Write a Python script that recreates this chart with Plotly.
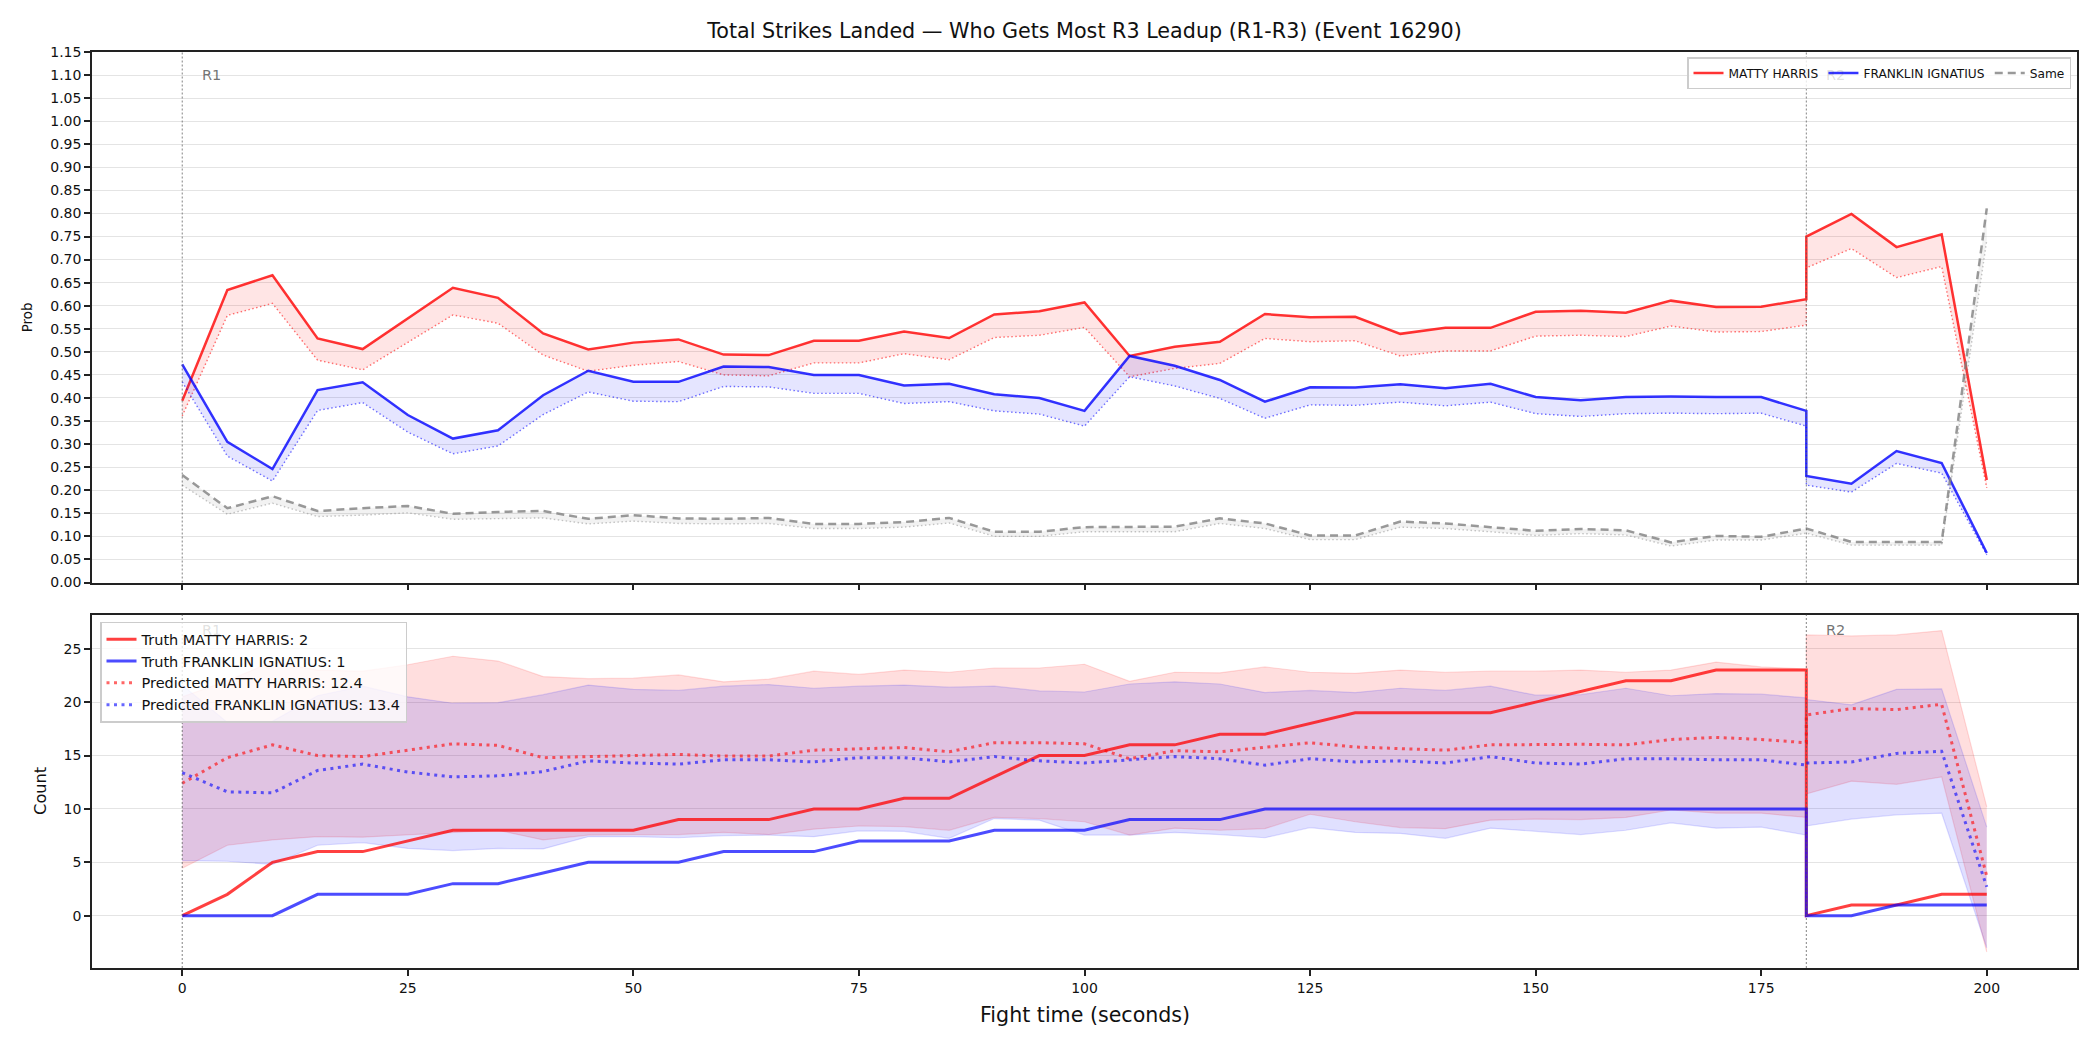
import plotly.graph_objects as go

# ---------------- data ----------------
fight_time = [0, 5, 10, 15, 20, 25, 30, 35, 40, 45, 50, 55, 60, 65, 70, 75, 80, 85, 90, 95,
              100, 105, 110, 115, 120, 125, 130, 135, 140, 145, 150, 155, 160, 165, 170, 175, 180,
              180, 185, 190, 195, 200]
x_ticks = [0, 25, 50, 75, 100, 125, 150, 175, 200]
round_starts = [0, 180]
round_labels = ["R1", "R2"]

harris_prob = [0.394, 0.634, 0.666, 0.529, 0.506, 0.572, 0.639, 0.617, 0.540, 0.505,
               0.520, 0.527, 0.494, 0.493, 0.524, 0.524, 0.544, 0.530, 0.581, 0.588,
               0.607, 0.491, 0.511, 0.522, 0.582, 0.575, 0.576, 0.539, 0.552, 0.552,
               0.587, 0.589, 0.585, 0.611, 0.597, 0.598, 0.614,
               0.750, 0.799, 0.727, 0.755, 0.222]
harris_prob_pred = [0.361, 0.579, 0.605, 0.482, 0.461, 0.521, 0.580, 0.562, 0.493, 0.458,
                    0.471, 0.479, 0.450, 0.448, 0.476, 0.476, 0.496, 0.483, 0.531, 0.536,
                    0.553, 0.446, 0.464, 0.475, 0.529, 0.522, 0.524, 0.491, 0.502, 0.502,
                    0.534, 0.536, 0.533, 0.556, 0.543, 0.544, 0.558,
                    0.682, 0.724, 0.661, 0.685, 0.205]
franklin_prob = [0.473, 0.305, 0.246, 0.417, 0.434, 0.363, 0.312, 0.330, 0.406, 0.459,
                 0.435, 0.435, 0.468, 0.467, 0.450, 0.450, 0.427, 0.431, 0.408, 0.400,
                 0.372, 0.491, 0.470, 0.439, 0.392, 0.423, 0.4225, 0.430, 0.421, 0.431,
                 0.402, 0.395, 0.402, 0.403, 0.402, 0.402, 0.372,
                 0.231, 0.214, 0.285, 0.259, 0.064]
franklin_prob_pred = [0.435, 0.274, 0.220, 0.373, 0.390, 0.326, 0.279, 0.296, 0.364, 0.413,
                      0.393, 0.392, 0.425, 0.424, 0.410, 0.410, 0.388, 0.392, 0.372, 0.365,
                      0.339, 0.446, 0.426, 0.399, 0.356, 0.385, 0.384, 0.391, 0.383, 0.391,
                      0.366, 0.360, 0.366, 0.367, 0.366, 0.367, 0.339,
                      0.211, 0.196, 0.258, 0.237, 0.060]
same_prob = [0.233, 0.161, 0.187, 0.155, 0.161, 0.166, 0.149, 0.153, 0.155, 0.138,
             0.146, 0.139, 0.138, 0.140, 0.127, 0.127, 0.131, 0.140, 0.110, 0.110,
             0.120, 0.120, 0.121, 0.139, 0.128, 0.102, 0.102, 0.132, 0.128, 0.120,
             0.112, 0.116, 0.113, 0.087, 0.101, 0.099, 0.117,
             0.117, 0.088, 0.088, 0.088, 0.811]
same_prob_pred = [0.211, 0.148, 0.172, 0.143, 0.146, 0.151, 0.137, 0.139, 0.140, 0.127,
                  0.133, 0.128, 0.127, 0.128, 0.117, 0.117, 0.120, 0.129, 0.100, 0.100,
                  0.110, 0.110, 0.110, 0.128, 0.117, 0.093, 0.093, 0.120, 0.117, 0.110,
                  0.102, 0.106, 0.103, 0.079, 0.092, 0.092, 0.107,
                  0.107, 0.081, 0.081, 0.081, 0.742]

harris_truth = [0, 2, 5, 6, 6, 7, 8, 8, 8, 8, 8, 9, 9, 9, 10, 10, 11, 11, 13, 15,
                15, 16, 16, 17, 17, 18, 19, 19, 19, 19, 20, 21, 22, 22, 23, 23, 23,
                0, 1, 1, 2, 2]
franklin_truth = [0, 0, 0, 2, 2, 2, 3, 3, 4, 5, 5, 5, 6, 6, 6, 7, 7, 7, 8, 8,
                  8, 9, 9, 9, 10, 10, 10, 10, 10, 10, 10, 10, 10, 10, 10, 10, 10,
                  0, 0, 1, 1, 1]
harris_count_pred = [12.4, 14.8, 16.0, 15.0, 14.9, 15.5, 16.1, 15.95, 14.8, 14.9,
                     15.0, 15.1, 14.95, 14.95, 15.5, 15.6, 15.75, 15.35, 16.2, 16.2,
                     16.1, 14.7, 15.45, 15.35, 15.8, 16.2, 15.8, 15.65, 15.5, 16.0,
                     16.05, 16.05, 16.0, 16.5, 16.7, 16.5, 16.2,
                     18.8, 19.4, 19.3, 19.8, 3.7]
franklin_count_pred = [13.4, 11.6, 11.5, 13.6, 14.2, 13.45, 13.0, 13.1, 13.5, 14.5,
                       14.3, 14.2, 14.6, 14.6, 14.4, 14.8, 14.8, 14.4, 14.9, 14.5,
                       14.3, 14.6, 14.9, 14.7, 14.1, 14.7, 14.4, 14.5, 14.3, 14.9,
                       14.3, 14.2, 14.7, 14.7, 14.6, 14.6, 14.1,
                       14.3, 14.4, 15.2, 15.4, 2.7]
harris_upper = [20.5, 22.0, 23.8, 23.0, 22.9, 23.5, 24.3, 23.85, 22.4, 22.2,
                22.25, 22.55, 21.9, 22.15, 22.9, 22.6, 23.0, 22.8, 23.2, 23.2,
                23.55, 21.95, 22.8, 22.75, 23.3, 22.8, 22.7, 23.0, 22.8, 22.9,
                22.9, 23.0, 22.8, 23.0, 23.75, 23.3, 23.1,
                26.3, 26.2, 26.3, 26.7, 10.2]
harris_lower = [4.45, 6.6, 7.1, 7.4, 7.35, 7.55, 7.8, 8.0, 7.1, 7.55,
                7.6, 7.6, 7.8, 7.6, 8.1, 8.4, 8.35, 8.0, 9.2, 9.1,
                8.8, 7.55, 8.2, 8.0, 8.15, 9.5, 8.8, 8.25, 8.15, 8.95,
                9.05, 9.0, 9.2, 9.9, 9.6, 9.6, 9.2,
                11.4, 12.6, 12.3, 13.0, -3.4]
franklin_upper = [21.6, 18.1, 18.2, 20.6, 21.5, 20.5, 19.9, 19.95, 20.7, 21.6,
                  21.2, 21.1, 21.5, 21.65, 21.3, 21.5, 21.6, 21.4, 21.5, 21.05,
                  20.95, 21.7, 21.9, 21.7, 20.9, 21.1, 20.9, 21.3, 21.1, 21.5,
                  20.65, 20.7, 21.3, 20.6, 20.8, 20.75, 20.4,
                  20.25, 19.75, 21.2, 21.25, 8.3]
franklin_lower = [5.15, 5.1, 4.8, 6.6, 6.85, 6.3, 6.1, 6.3, 6.25, 7.4,
                  7.4, 7.3, 7.5, 7.55, 7.4, 7.95, 7.9, 7.25, 9.1, 8.95,
                  7.55, 7.55, 7.8, 7.6, 7.3, 8.25, 7.8, 7.7, 7.25, 8.2,
                  7.9, 7.6, 8.0, 8.7, 8.2, 8.3, 7.55,
                  8.4, 9.05, 9.45, 9.6, -3.0]

harris_name = "MATTY HARRIS"
franklin_name = "FRANKLIN IGNATIUS"

# ---------------- figure ----------------
FONT = "DejaVu Sans"
fig = go.Figure()

RED = "rgba(255,0,0,0.8)"
BLUE = "rgba(0,0,255,0.8)"
GRAY = "rgba(128,128,128,0.8)"

top_series = [
    (harris_name, harris_prob, harris_prob_pred, RED, "rgba(255,0,0,0.55)", "rgba(255,0,0,0.1)", "solid"),
    (franklin_name, franklin_prob, franklin_prob_pred, BLUE, "rgba(0,0,255,0.55)", "rgba(0,0,255,0.1)", "solid"),
    ("Same", same_prob, same_prob_pred, GRAY, "rgba(128,128,128,0.45)", "rgba(128,128,128,0.1)", "8px,5px"),
]
for name, vals, pred, col, pcol, fcol, dash in top_series:
    fig.add_trace(go.Scatter(x=fight_time, y=pred, mode="lines", xaxis="x", yaxis="y",
                             line=dict(color=pcol, width=1.4, dash="1.5px,2.5px"),
                             showlegend=False, hoverinfo="skip"))
    fig.add_trace(go.Scatter(x=fight_time, y=vals, mode="lines", xaxis="x", yaxis="y",
                             line=dict(width=0), fill="tonexty", fillcolor=fcol,
                             showlegend=False, hoverinfo="skip"))
    fig.add_trace(go.Scatter(x=fight_time, y=vals, mode="lines", xaxis="x", yaxis="y",
                             name=name, legend="legend",
                             line=dict(color=col, width=2.5, dash=dash)))

# bottom bands
for lo, hi, ecol, fcol in [
    (harris_lower, harris_upper, "rgba(255,0,0,0.13)", "rgba(255,0,0,0.13)"),
    (franklin_lower, franklin_upper, "rgba(0,0,255,0.13)", "rgba(0,0,255,0.12)"),
]:
    fig.add_trace(go.Scatter(x=fight_time, y=lo, mode="lines", xaxis="x2", yaxis="y2",
                             line=dict(color=ecol, width=1.2), showlegend=False, hoverinfo="skip"))
    fig.add_trace(go.Scatter(x=fight_time, y=hi, mode="lines", xaxis="x2", yaxis="y2",
                             line=dict(color=ecol, width=1.2), fill="tonexty", fillcolor=fcol,
                             showlegend=False, hoverinfo="skip"))

fig.add_trace(go.Scatter(x=fight_time, y=harris_truth, mode="lines", xaxis="x2", yaxis="y2",
                         name=f"Truth {harris_name}: {harris_truth[-1]}", legend="legend2",
                         line=dict(color="rgba(255,0,0,0.75)", width=3)))
fig.add_trace(go.Scatter(x=fight_time, y=franklin_truth, mode="lines", xaxis="x2", yaxis="y2",
                         name=f"Truth {franklin_name}: {franklin_truth[-1]}", legend="legend2",
                         line=dict(color="rgba(0,0,255,0.7)", width=3)))
fig.add_trace(go.Scatter(x=fight_time, y=harris_count_pred, mode="lines", xaxis="x2", yaxis="y2",
                         name=f"Predicted {harris_name}: {harris_count_pred[0]}", legend="legend2",
                         line=dict(color="rgba(255,0,0,0.6)", width=3, dash="3px,4.5px")))
fig.add_trace(go.Scatter(x=fight_time, y=franklin_count_pred, mode="lines", xaxis="x2", yaxis="y2",
                         name=f"Predicted {franklin_name}: {franklin_count_pred[0]}", legend="legend2",
                         line=dict(color="rgba(0,0,255,0.6)", width=3, dash="3px,4.5px")))

# round markers (labels that sit behind a legend in the reference are drawn faint)
shapes = []
annotations = []
for xa, ya in [("x", "y"), ("x2", "y2")]:
    for rs, rl in zip(round_starts, round_labels):
        shapes.append(dict(type="line", xref=xa, yref=f"{ya} domain", x0=rs, x1=rs, y0=0, y1=1,
                           line=dict(color="rgba(90,90,90,0.75)", width=1, dash="2px,2px"), layer="above"))
        behind_legend = (xa == "x" and rl == "R2") or (xa == "x2" and rl == "R1")
        tcol = "rgba(70,70,70,0.18)" if behind_legend else "rgba(70,70,70,0.75)"
        annotations.append(dict(text=rl, xref=xa, yref=f"{ya} domain", x=rs + 2, y=0.956,
                                xanchor="left", yanchor="middle", showarrow=False,
                                font=dict(family=FONT, size=14.5, color=tcol)))

W, H = 2100, 1050
ml, mr, mt, mb = 92, 23, 52, 82
pw, ph = W - ml - mr, H - mt - mb
top_lo = (H - mb - 582.5) / ph
bot_hi = (H - mb - 614.6) / ph

annotations += [
    dict(text="Prob", xref="paper", yref="paper", x=(27 - ml) / pw, y=(top_lo + 1) / 2,
         textangle=-90, showarrow=False, xanchor="center", yanchor="middle",
         font=dict(family=FONT, size=13.4, color="#111")),
    dict(text="Count", xref="paper", yref="paper", x=(40.6 - ml) / pw, y=bot_hi / 2,
         textangle=-90, showarrow=False, xanchor="center", yanchor="middle",
         font=dict(family=FONT, size=16.2, color="#111")),
    dict(text="Fight time (seconds)", xref="paper", yref="paper", x=0.5, y=(H - mb - 1015) / ph,
         showarrow=False, xanchor="center", yanchor="middle",
         font=dict(family=FONT, size=20.6, color="#111")),
]

axis_common = dict(showline=True, mirror=True, linecolor="#222", linewidth=1.6,
                   ticks="outside", ticklen=6, tickwidth=1.5, tickcolor="#222",
                   tickfont=dict(family=FONT, size=14, color="#111"), zeroline=False)

fig.update_layout(
    width=W, height=H,
    margin=dict(l=ml, r=mr, t=mt, b=mb),
    paper_bgcolor="white", plot_bgcolor="white",
    font=dict(family=FONT, color="#111"),
    title=dict(text="Total Strikes Landed — Who Gets Most R3 Leadup (R1-R3) (Event 16290)",
               x=0.5, xref="paper", xanchor="center", y=1 - 31 / H, yref="container",
               yanchor="middle", font=dict(family=FONT, size=20.7, color="#111")),
    xaxis=dict(domain=[0, 1], anchor="y", range=[-10, 210], tickvals=x_ticks,
               showticklabels=False, showgrid=False, **axis_common),
    yaxis=dict(domain=[top_lo, 1], anchor="x", range=[0, 1.15], dtick=0.05, tick0=0,
               tickformat=".2f", showgrid=True, gridcolor="#e4e4e4", gridwidth=1, **axis_common),
    xaxis2=dict(domain=[0, 1], anchor="y2", range=[-10, 210], tickvals=x_ticks,
                showticklabels=True, showgrid=False, **axis_common),
    yaxis2=dict(domain=[0, bot_hi], anchor="x2", range=[-4.9, 28.2], tickvals=[0, 5, 10, 15, 20, 25],
                showgrid=True, gridcolor="#e4e4e4", gridwidth=1, **axis_common),
    legend=dict(orientation="h", x=(2071 - ml) / pw, xanchor="right", y=1 - 5 / ph, yanchor="top",
                traceorder="normal",
                bgcolor="rgba(255,255,255,0.8)", bordercolor="#cccccc", borderwidth=1.5,
                font=dict(family=FONT, size=12.2, color="#111"), itemwidth=30, tracegroupgap=0),
    legend2=dict(orientation="v", x=(100 - ml) / pw, xanchor="left", y=(H - mb - 621.7) / ph,
                 yanchor="top", traceorder="normal",
                 bgcolor="rgba(255,255,255,0.8)", bordercolor="#cccccc", borderwidth=1.5,
                 font=dict(family=FONT, size=14.5, color="#111"), itemwidth=30, tracegroupgap=0),
    shapes=shapes,
    annotations=annotations,
)

fig.write_html("out.html")
